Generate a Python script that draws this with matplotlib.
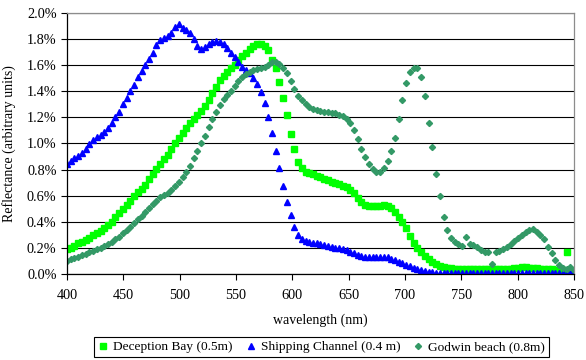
import numpy as np
import matplotlib
matplotlib.use('Agg')
import matplotlib.pyplot as plt
from matplotlib.ticker import FuncFormatter

# wavelength grid (nm), one sample every ~3.3 nm
wavelength = np.linspace(400, 850, 137)

# reflectance values in percent
deception_bay = [
    0.19, 0.20, 0.218, 0.234, 0.248, 0.259, 0.279, 0.296, 0.313, 0.330,
    0.352, 0.374, 0.40, 0.433, 0.465, 0.496, 0.527, 0.556, 0.594, 0.626,
    0.654, 0.685, 0.727, 0.768, 0.805, 0.843, 0.878, 0.915, 0.956, 1.003,
    1.043, 1.078, 1.115, 1.154, 1.185, 1.215, 1.248, 1.29, 1.337, 1.388,
    1.436, 1.483, 1.515, 1.545, 1.578, 1.605, 1.636, 1.668, 1.695, 1.722,
    1.745, 1.762, 1.766, 1.75, 1.715, 1.64, 1.575, 1.473, 1.35, 1.215,
    1.075, 0.955, 0.86, 0.81, 0.783, 0.771, 0.763, 0.753, 0.741, 0.728,
    0.717, 0.707, 0.697, 0.686, 0.675, 0.663, 0.646, 0.62, 0.583, 0.55,
    0.532, 0.523, 0.519, 0.519, 0.523, 0.53, 0.524, 0.504, 0.474, 0.437,
    0.399, 0.35, 0.294, 0.241, 0.201, 0.169, 0.14, 0.115, 0.093, 0.077,
    0.062, 0.051, 0.046, 0.043, 0.041, 0.039, 0.04, 0.038, 0.037, 0.038,
    0.036, 0.037, 0.035, 0.036, 0.038, 0.036, 0.035, 0.037, 0.038, 0.04,
    0.045, 0.048, 0.05, 0.05, 0.048, 0.045, 0.043, 0.04, 0.038, 0.036,
    0.035, 0.033, 0.032, 0.03, 0.166, 0.028, 0.02,
]

shipping_channel = [
    0.845, 0.865, 0.89, 0.908, 0.93, 0.96, 0.995, 1.03, 1.052, 1.063,
    1.09, 1.12, 1.16, 1.20, 1.245, 1.30, 1.352, 1.40, 1.45, 1.508,
    1.556, 1.604, 1.648, 1.697, 1.752, 1.792, 1.808, 1.822, 1.845, 1.895,
    1.915, 1.882, 1.872, 1.85, 1.80, 1.75, 1.726, 1.738, 1.762, 1.775,
    1.782, 1.779, 1.763, 1.735, 1.697, 1.66, 1.622, 1.588, 1.564, 1.538,
    1.505, 1.458, 1.393, 1.308, 1.20, 1.08, 0.945, 0.812, 0.675, 0.55,
    0.45, 0.362, 0.30, 0.266, 0.252, 0.245, 0.24, 0.234, 0.228, 0.222,
    0.215, 0.209, 0.203, 0.197, 0.19, 0.181, 0.171, 0.158, 0.143, 0.136,
    0.134, 0.133, 0.133, 0.133, 0.134, 0.132, 0.127, 0.118, 0.108, 0.095,
    0.082, 0.07, 0.058, 0.049, 0.04, 0.032, 0.025, 0.019, 0.014, 0.011,
    0.01, 0.009, 0.01, 0.009, 0.008, 0.01, 0.009, 0.008, 0.009, 0.01,
    0.009, 0.008, 0.009, 0.01, 0.009, 0.008, 0.009, 0.01, 0.009, 0.008,
    0.01, 0.009, 0.01, 0.008, 0.009, 0.01, 0.009, 0.008, 0.009, 0.01,
    0.009, 0.008, 0.009, 0.008, 0.009, 0.008, 0.008,
]

godwin_beach = [
    0.102, 0.112, 0.121, 0.131, 0.142, 0.153, 0.166, 0.178, 0.19, 0.202,
    0.214, 0.228, 0.245, 0.265, 0.287, 0.311, 0.335, 0.36, 0.388, 0.418,
    0.447, 0.477, 0.506, 0.535, 0.562, 0.588, 0.604, 0.622, 0.644, 0.675,
    0.706, 0.74, 0.778, 0.83, 0.89, 0.945, 1.0, 1.06, 1.125, 1.19,
    1.245, 1.295, 1.338, 1.374, 1.405, 1.443, 1.477, 1.508, 1.533, 1.55,
    1.563, 1.571, 1.578, 1.586, 1.60, 1.622, 1.625, 1.608, 1.58, 1.54,
    1.482, 1.42, 1.365, 1.33, 1.303, 1.282, 1.268, 1.257, 1.249, 1.242,
    1.238, 1.236, 1.233, 1.222, 1.208, 1.19, 1.158, 1.107, 1.035, 0.96,
    0.895, 0.84, 0.803, 0.78, 0.783, 0.815, 0.866, 0.94, 1.045, 1.19,
    1.335, 1.46, 1.545, 1.582, 1.576, 1.51, 1.365, 1.16, 0.97, 0.765,
    0.598, 0.437, 0.336, 0.272, 0.243, 0.23, 0.216, 0.284, 0.232, 0.22,
    0.206, 0.182, 0.166, 0.166, 0.076, 0.166, 0.18, 0.194, 0.21, 0.232,
    0.254, 0.278, 0.30, 0.32, 0.335, 0.342, 0.318, 0.296, 0.265, 0.21,
    0.16, 0.11, 0.072, 0.046, 0.037, 0.055, 0.03,
]

labels = ['Deception Bay (0.5m)', 'Shipping Channel (0.4 m)', 'Godwin beach (0.8m)']

plt.rcParams['font.family'] = ['Liberation Serif', 'DejaVu Serif']

fig = plt.figure(figsize=(5.86, 3.6), dpi=100)
ax = fig.add_axes([0.1143, 0.2389, 0.8652, 0.725])

ax.plot(wavelength, deception_bay, ls='none', marker='s', ms=4.0,
        color='#00ff00', mec='#00ff00', label=labels[0])
ax.plot(wavelength, shipping_channel, ls='none', marker='^', ms=4.4,
        color='#0000ff', mec='#0000ff', label=labels[1])
ax.plot(wavelength, godwin_beach, ls='none', marker='D', ms=3.1,
        color='#339966', mec='#339966', label=labels[2])

ax.set_xlim(400, 850)
ax.set_ylim(0, 2.0)
ax.set_xticks(np.arange(400, 851, 50))
ax.set_yticks(np.arange(0, 2.01, 0.2))
ax.yaxis.set_major_formatter(FuncFormatter(lambda v, p: '%.1f%%' % v))

ax.yaxis.grid(True, color='black', lw=0.8)
ax.set_axisbelow(True)
for s in ['left', 'bottom']:
    ax.spines[s].set_color('black')
    ax.spines[s].set_linewidth(0.9)
for s in ['top', 'right']:
    ax.spines[s].set_color('#8c8c8c')
    ax.spines[s].set_linewidth(0.9)

ax.tick_params(direction='out', length=4, width=0.8, labelsize=10.3, colors='black')
ax.tick_params(axis='x', pad=7)

ax.set_xlabel('wavelength (nm)', fontsize=10, labelpad=8)
ax.set_ylabel('Reflectance (arbitrary units)', fontsize=10, labelpad=8)

leg = fig.legend(loc='center', bbox_to_anchor=(0.549, 0.036), ncol=3, fontsize=9.6,
                 frameon=True, fancybox=False, edgecolor='black', framealpha=1,
                 handlelength=0.7, handletextpad=0.4, columnspacing=1.0,
                 borderpad=0.3, borderaxespad=0)
leg.get_frame().set_linewidth(0.8)

fig.savefig('out.png', dpi=100)
